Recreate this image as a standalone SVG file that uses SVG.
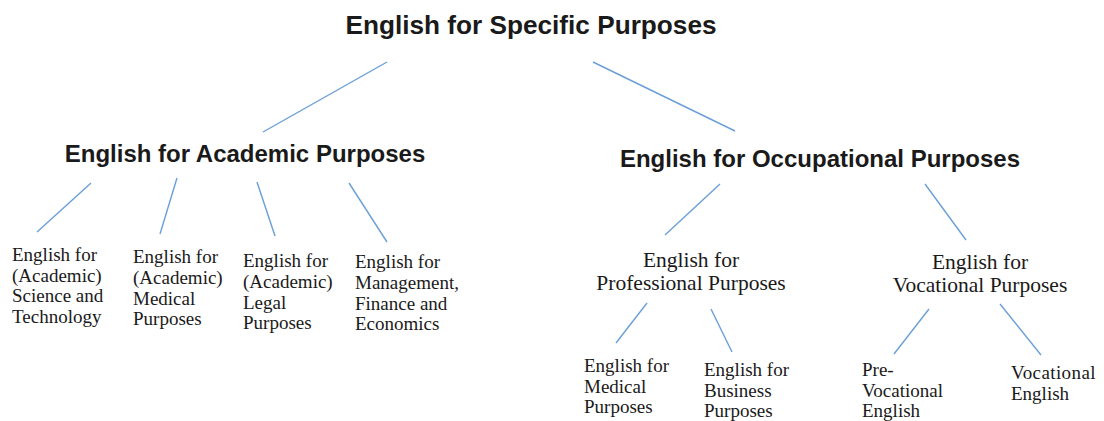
<svg xmlns="http://www.w3.org/2000/svg" width="1104" height="421" viewBox="0 0 1104 421">
<style>
.h{font-family:"Liberation Sans",Arial,sans-serif;font-weight:bold;fill:#1a1a1a;text-anchor:middle}
.t{font-family:"Liberation Serif","Times New Roman",serif;fill:#1a1a1a;font-size:19px}
.m{font-family:"Liberation Serif","Times New Roman",serif;fill:#1a1a1a;font-size:21.5px;text-anchor:middle}
.c line{stroke:#6a9fd8;stroke-width:1.4;fill:none}
</style>
<rect width="1104" height="421" fill="#ffffff"/>
<g id="connectors" class="c">
<line x1="387" y1="62" x2="263" y2="132"/>
<line x1="593" y1="62" x2="735" y2="131"/>
<line x1="91" y1="183" x2="37" y2="232"/>
<line x1="177" y1="178" x2="160" y2="234"/>
<line x1="257" y1="182" x2="275" y2="236"/>
<line x1="349" y1="183" x2="387" y2="242"/>
<line x1="720" y1="184" x2="665" y2="235"/>
<line x1="925" y1="184" x2="966" y2="240"/>
<line x1="647" y1="303" x2="616" y2="343"/>
<line x1="711" y1="309" x2="732" y2="352"/>
<line x1="929" y1="309" x2="894" y2="354"/>
<line x1="1000" y1="304" x2="1041" y2="355"/>
</g>
<g id="esp"><text class="h" x="531" y="34" font-size="26.2">English for Specific Purposes</text></g>
<g id="eap"><text class="h" x="245" y="162" font-size="24">English for Academic Purposes</text></g>
<g id="eop"><text class="h" x="820" y="167" font-size="24">English for Occupational Purposes</text></g>
<g id="est"><text class="t" x="12" y="261"><tspan x="12">English for</tspan><tspan x="12" dy="20.7">(Academic)</tspan><tspan x="12" dy="20.7">Science and</tspan><tspan x="12" dy="20.7">Technology</tspan></text></g>
<g id="emp-acad"><text class="t" x="133" y="263"><tspan x="133">English for</tspan><tspan x="133" dy="20.8">(Academic)</tspan><tspan x="133" dy="20.8">Medical</tspan><tspan x="133" dy="20.8">Purposes</tspan></text></g>
<g id="elp"><text class="t" x="243" y="267"><tspan x="243">English for</tspan><tspan x="243" dy="20.8">(Academic)</tspan><tspan x="243" dy="20.8">Legal</tspan><tspan x="243" dy="20.8">Purposes</tspan></text></g>
<g id="emfe"><text class="t" x="355" y="268"><tspan x="355">English for</tspan><tspan x="355" dy="20.8">Management,</tspan><tspan x="355" dy="20.8">Finance and</tspan><tspan x="355" dy="20.8">Economics</tspan></text></g>
<g id="epp"><text class="m" x="691" y="267"><tspan x="691">English for</tspan><tspan x="691" dy="23">Professional Purposes</tspan></text></g>
<g id="evp"><text class="m" x="980" y="269"><tspan x="980">English for</tspan><tspan x="980" dy="23">Vocational Purposes</tspan></text></g>
<g id="emp"><text class="t" x="584" y="372"><tspan x="584">English for</tspan><tspan x="584" dy="20.6">Medical</tspan><tspan x="584" dy="20.6">Purposes</tspan></text></g>
<g id="ebp"><text class="t" x="704" y="376"><tspan x="704">English for</tspan><tspan x="704" dy="20.5">Business</tspan><tspan x="704" dy="20.5">Purposes</tspan></text></g>
<g id="pve"><text class="t" x="862" y="376"><tspan x="862">Pre-</tspan><tspan x="862" dy="20.5">Vocational</tspan><tspan x="862" dy="20.5">English</tspan></text></g>
<g id="ve"><text class="t" x="1011" y="379"><tspan x="1011" letter-spacing="0.4">Vocational</tspan><tspan x="1011" dy="20.7">English</tspan></text></g>
</svg>
